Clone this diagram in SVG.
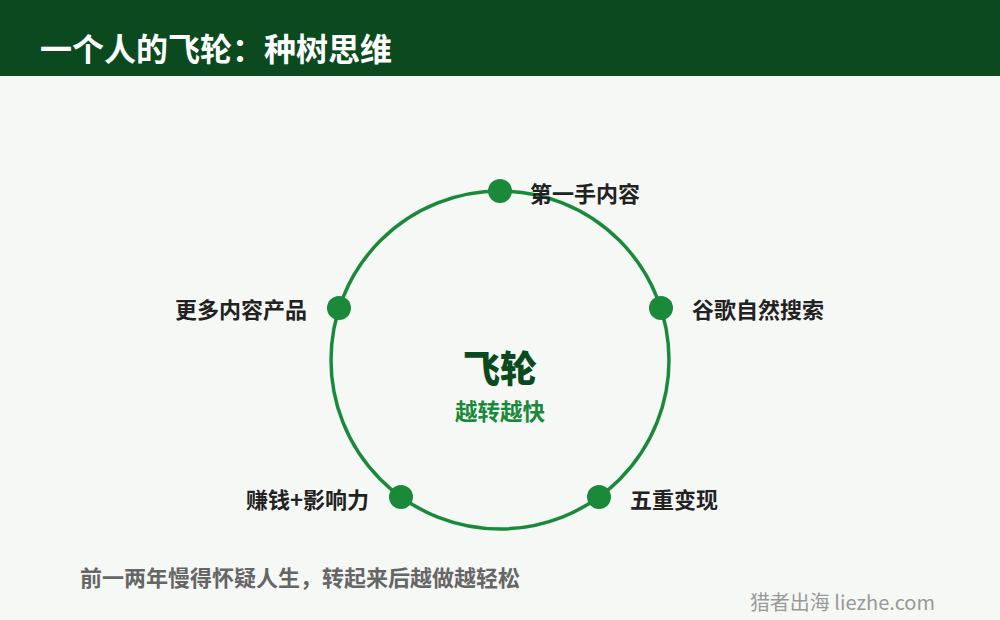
<svg xmlns="http://www.w3.org/2000/svg" width="1000" height="620" viewBox="0 0 1000 620">
<style>
text{font-family:"Noto Sans CJK SC","Noto Sans",sans-serif}
.lbl{font-size:22px;font-weight:700;fill:#222}
.dot{fill:#1a8a3a}
</style>
<rect width="1000" height="620" fill="#f6f8f6"/>
<rect width="1000" height="76" fill="#0b4a1f"/>
<text x="40" y="61" font-size="32" font-weight="700" fill="#fff">一个人的飞轮：种树思维</text>
<g id="connectors">
<circle cx="500" cy="360" r="169" fill="none" stroke="#1a8a3a" stroke-width="3.5"/>
</g>
<g id="center">
<text x="500" y="383" text-anchor="middle" font-size="37" font-weight="900" fill="#0b4a1f">飞轮</text>
<text x="500" y="420" text-anchor="middle" font-size="22.5" font-weight="700" fill="#1a8a3a">越转越快</text>
</g>
<g id="n1"><circle class="dot" cx="500" cy="191" r="12"/><text class="lbl" x="530" y="202">第一手内容</text></g>
<g id="n2"><circle class="dot" cx="661" cy="308" r="12"/><text class="lbl" x="692" y="318">谷歌自然搜索</text></g>
<g id="n3"><circle class="dot" cx="599" cy="497" r="12"/><text class="lbl" x="630" y="508">五重变现</text></g>
<g id="n4"><circle class="dot" cx="401" cy="497" r="12"/><text class="lbl" x="369" y="508" text-anchor="end">赚钱+影响力</text></g>
<g id="n5"><circle class="dot" cx="339" cy="308" r="12"/><text class="lbl" x="307" y="318" text-anchor="end">更多内容产品</text></g>
<text x="80" y="586" font-size="22" font-weight="700" fill="#666">前一两年慢得怀疑人生，转起来后越做越轻松</text>
<text x="935" y="610" text-anchor="end" font-size="20" fill="#999">猎者出海 liezhe.com</text>
</svg>
